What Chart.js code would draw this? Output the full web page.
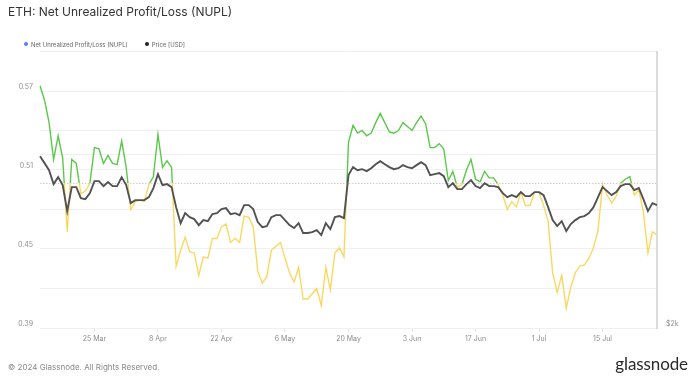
<!DOCTYPE html>
<html>
<head>
<meta charset="utf-8">
<script src="https://cdn.jsdelivr.net/npm/chart.js@4.4.1/dist/chart.umd.min.js"></script>
<style>
  html, body { margin: 0; padding: 0; background: #ffffff; }
  #wrap { position: relative; width: 695px; height: 380px; overflow: hidden; font-family: Inter, "Noto Sans", sans-serif; }
  #chart { position: absolute; left: 0; top: 0; }
  #title { position: absolute; left: 8px; top: 4px; font-size: 12px; color: #333; font-weight: 400; white-space: nowrap; }
  #legend { position: absolute; left: 24px; top: 41px; font-size: 6px; color: #666; white-space: nowrap; }
  #legend span.item { display: inline-block; margin-right: 17px; }
  #legend span.dot { display: inline-block; width: 4px; height: 4px; border-radius: 50%; margin-right: 3px; vertical-align: middle; position: relative; top: -1px; }
  #footer { position: absolute; left: 8px; top: 362px; font-size: 8px; color: #888; white-space: nowrap; }
  #logo { position: absolute; right: 7px; top: 353px; font-size: 17px; color: #2a2a2a; font-family: Lato, Inter, sans-serif; letter-spacing: -0.1px; }
</style>
</head>
<body>
<div id="wrap">
  <canvas id="chart" width="695" height="380"></canvas>
  <div id="title">ETH: Net Unrealized Profit/Loss (NUPL)</div>
  <div id="legend"><span class="item"><span class="dot" style="background:#5b7cf6"></span>Net Unrealized Profit/Loss (NUPL)</span><span class="item"><span class="dot" style="background:#222"></span>Price [USD]</span></div>
  <div id="footer">© 2024 Glassnode. All Rights Reserved.</div>
  <div id="logo">glassnode</div>
</div>
<script>
// ---- data (daily, starting 13 Mar 2024) ----
const startDay = [2024, 2, 13];
const monthNames = ['Jan','Feb','Mar','Apr','May','Jun','Jul','Aug','Sep','Oct','Nov','Dec'];

const nupl = [
  0.574,0.563,0.546,0.518,0.536,0.519,0.463,0.518,0.515,0.492,
  0.494,0.500,0.527,0.526,0.515,0.521,0.515,0.514,0.532,0.512,
  0.480,0.486,0.487,0.486,0.499,0.505,0.537,0.512,0.517,0.512,
  0.437,0.449,0.459,0.448,0.447,0.430,0.444,0.443,0.458,0.458,
  0.467,0.469,0.455,0.458,0.455,0.475,0.474,0.467,0.433,0.424,
  0.429,0.449,0.452,0.455,0.443,0.432,0.425,0.436,0.412,0.412,
  0.416,0.420,0.407,0.436,0.419,0.447,0.451,0.444,0.531,0.544,
  0.538,0.540,0.536,0.538,0.546,0.553,0.546,0.539,0.538,0.540,
  0.546,0.543,0.540,0.546,0.551,0.545,0.527,0.527,0.530,0.526,
  0.502,0.509,0.497,0.499,0.510,0.518,0.503,0.501,0.509,0.504,
  0.504,0.499,0.491,0.480,0.486,0.482,0.493,0.483,0.483,0.493,
  0.493,0.483,0.471,0.432,0.417,0.430,0.405,0.421,0.432,0.437,
  0.438,0.443,0.451,0.464,0.499,0.491,0.485,0.490,0.500,0.503,
  0.505,0.491,0.495,0.478,0.447,0.463,0.461
];

const price = [
  3976,3896,3815,3655,3735,3643,3344,3620,3620,3494,
  3482,3551,3689,3689,3632,3678,3632,3632,3735,3643,
  3436,3471,3471,3471,3505,3609,3769,3643,3655,3620,
  3390,3206,3321,3275,3252,3183,3241,3229,3310,3321,
  3367,3379,3310,3321,3298,3413,3413,3367,3218,3160,
  3172,3275,3298,3298,3241,3183,3149,3206,3092,3092,
  3103,3126,3069,3206,3138,3275,3287,3264,3758,3850,
  3815,3827,3804,3838,3884,3919,3884,3850,3827,3838,
  3873,3850,3838,3873,3907,3873,3758,3769,3781,3746,
  3620,3666,3597,3597,3655,3701,3632,3609,3666,3632,
  3632,3620,3551,3505,3528,3505,3563,3517,3517,3563,
  3563,3528,3390,3241,3172,3229,3115,3195,3241,3275,
  3287,3321,3390,3505,3620,3574,3528,3563,3632,3655,
  3655,3586,3609,3482,3344,3436,3413
];

const xTickLabels = ['25 Mar','8 Apr','22 Apr','6 May','20 May','3 Jun','17 Jun','1 Jul','15 Jul'];
const nuplGridTicks = [0.39,0.42,0.45,0.48,0.51,0.54,0.57,0.60];
const nuplTickLabels = [0.39,0.45,0.51,0.57];
const priceGridTicks = [2000,4000];
const priceTickLabels = {2000: '$2k'};
const nuplThreshold = 0.5;

// categories
const dates = nupl.map((_, i) => {
  const d = new Date(startDay[0], startDay[1], startDay[2] + i);
  return d.getDate() + ' ' + monthNames[d.getMonth()];
});

const GREEN = '#5cc84a';
const YELLOW = '#f9d862';
const GRID = '#f0f0f0';

function nuplColor(context) {
  const chart = context.chart;
  const { ctx, chartArea, scales } = chart;
  if (!chartArea || !scales.y) return GREEN;
  const y0 = scales.y.getPixelForValue(nuplThreshold);
  const g = ctx.createLinearGradient(0, chartArea.top, 0, chartArea.bottom);
  let f = (y0 - chartArea.top) / (chartArea.bottom - chartArea.top);
  f = Math.min(1, Math.max(0, f));
  g.addColorStop(0, GREEN);
  g.addColorStop(f, GREEN);
  g.addColorStop(f, YELLOW);
  g.addColorStop(1, YELLOW);
  return g;
}

const thresholdLine = {
  id: 'thresholdLine',
  beforeDatasetsDraw(chart) {
    const { ctx, chartArea, scales } = chart;
    const y = Math.round(scales.y.getPixelForValue(nuplThreshold)) + 0.5;
    ctx.save();
    ctx.strokeStyle = '#cfcfcf';
    ctx.lineWidth = 1;
    ctx.setLineDash([1.5, 1.5]);
    ctx.beginPath();
    ctx.moveTo(chartArea.left, y);
    ctx.lineTo(chartArea.right, y);
    ctx.stroke();
    ctx.restore();
  }
};

new Chart(document.getElementById('chart'), {
  type: 'line',
  data: {
    labels: dates,
    datasets: [
      {
        label: 'Price [USD]',
        data: price,
        yAxisID: 'price',
        borderColor: '#525252',
        borderWidth: 1.9,
        pointRadius: 0,
        tension: 0,
        order: 0
      },
      {
        label: 'Net Unrealized Profit/Loss (NUPL)',
        data: nupl,
        yAxisID: 'y',
        borderColor: nuplColor,
        borderWidth: 1.4,
        pointRadius: 0,
        tension: 0,
        order: 1
      }
    ]
  },
  options: {
    responsive: false,
    animation: false,
    devicePixelRatio: 1,
    layout: { padding: { top: 51.5, bottom: 30, left: 0, right: 0 } },
    plugins: { legend: { display: false }, tooltip: { enabled: false }, title: { display: false } },
    scales: {
      x: {
        type: 'category',
        offset: false,
        afterFit: (s) => { s.height = 22; },
        border: { display: false },
        grid: {
          drawOnChartArea: false,
          drawTicks: true,
          tickLength: 4,
          color: (c) => (xTickLabels.includes(dates[c.index]) ? '#e2e2e2' : 'rgba(0,0,0,0)')
        },
        ticks: {
          autoSkip: false,
          maxRotation: 0,
          padding: 3,
          color: '#8c8c8c',
          font: { family: 'Inter', size: 7 },
          callback: (v, i) => (xTickLabels.includes(dates[i]) ? dates[i] : '')
        }
      },
      y: {
        position: 'left',
        min: 0.39,
        max: 0.60,
        afterFit: (s) => { s.width = 40; },
        afterBuildTicks: (s) => { s.ticks = nuplGridTicks.map(v => ({ value: v })); },
        border: { display: false },
        grid: { color: GRID, lineWidth: 1, drawTicks: false },
        ticks: {
          padding: 7,
          labelOffset: -4,
          color: '#8c8c8c',
          font: { family: 'Inter', size: 7 },
          callback: (v) => (nuplTickLabels.some(t => Math.abs(t - v) < 1e-6) ? v.toFixed(2) : '')
        }
      },
      price: {
        position: 'right',
        min: 2000,
        max: 5180,
        afterFit: (s) => { s.width = 38; },
        afterBuildTicks: (s) => { s.ticks = priceGridTicks.map(v => ({ value: v })); },
        border: { display: true, color: '#dcdcdc', width: 2 },
        grid: { color: GRID, lineWidth: 1, drawTicks: false },
        ticks: {
          padding: 9,
          labelOffset: -4,
          color: '#8c8c8c',
          font: { family: 'Inter', size: 7 },
          callback: (v) => priceTickLabels[v] || ''
        }
      }
    }
  },
  plugins: [thresholdLine]
});
</script>
</body>
</html>
